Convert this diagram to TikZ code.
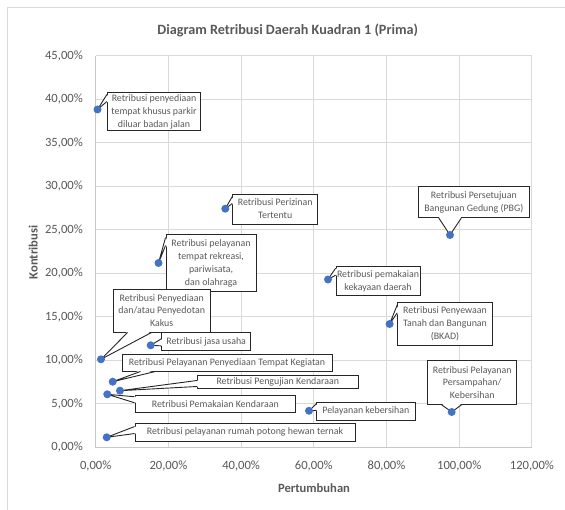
\documentclass[tikz,border=0pt]{standalone}
\usepackage{fontspec}
\setmainfont{Carlito}
\usetikzlibrary{calc}
\definecolor{txt}{HTML}{595959}
\definecolor{gridc}{HTML}{D9D9D9}
\definecolor{axisc}{HTML}{C8C8C8}
\definecolor{ptblue}{HTML}{4472C4}
\tikzset{
 lbl/.style={draw=black!85, line width=0.9pt, fill=white, text=txt, font=\fontsize{9.9}{12.8}\selectfont, align=center, inner sep=0pt},
 cline/.style={draw=black!85, line width=0.9pt, line join=miter},
 dot/.style={circle, fill=ptblue, inner sep=0pt, minimum size=8pt},
 ticklbl/.style={text=txt, font=\fontsize{12.6}{14}\selectfont, inner sep=0pt},
 axtitle/.style={text=txt, font=\bfseries\fontsize{12.6}{14}\selectfont, inner sep=0pt},
 gridline/.style={draw=gridc, line width=0.9pt},
 framec/.style={draw=gridc, line width=0.9pt},
}
\newcommand\mkcallout[4]{% point, base1, base2, inward shift
 \fill[white] ($(#2)+#4$) -- (#1) -- ($(#3)+#4$) -- cycle;
 \draw[cline] (#2) -- (#1) -- (#3);}
\begin{document}
\begin{tikzpicture}[x=1pt,y=-1pt]
\useasboundingbox (0,0) rectangle (565,510);
\fill[white] (0,0) rectangle (565,510);
% outer frame
\draw[framec] (7.3,510) -- (7.3,7.3) -- (565,7.3);
% title
\node[text=txt, font=\bfseries\fontsize{14.2}{16}\selectfont] (title) at (287.7,30.6) {Diagram Retribusi Daerah Kuadran 1 (Prima)};
% grid
\foreach \i in {1,...,6} \draw[gridline] ({95.7+\i*72.7},55.7) -- ({95.7+\i*72.7},447.3);
\foreach \j in {1,...,9} \draw[gridline] (95.7,{447.3-\j*43.5}) -- (532,{447.3-\j*43.5});
\draw[draw=axisc, line width=0.9pt] (95.7,55.7) -- (95.7,447.3) -- (532,447.3);
% tick labels
\foreach \j/\t in {0/{0,00\%},1/{5,00\%},2/{10,00\%},3/{15,00\%},4/{20,00\%},5/{25,00\%},6/{30,00\%},7/{35,00\%},8/{40,00\%},9/{45,00\%}}
 \node[ticklbl, anchor=east] (y\j) at (83,{447.3-\j*43.5}) {\t};
\foreach \i/\t in {0/{0,00\%},1/{20,00\%},2/{40,00\%},3/{60,00\%},4/{80,00\%},5/{100,00\%},6/{120,00\%}}
 \node[ticklbl] (x\i) at ({95.7+\i*72.7},466) {\t};
\node[axtitle, rotate=90] (ytitle) at (33.3,252.5) {Kontribusi};
\node[axtitle] (xtitle) at (314,488) {Pertumbuhan};
% data points
\coordinate (p1) at (97.5,109.5);
\coordinate (p2) at (225.3,208.7);
\coordinate (p3) at (158.5,263);
\coordinate (p4) at (450,235);
\coordinate (p5) at (328,279.5);
\coordinate (p6) at (389.6,324);
\coordinate (p7) at (101,359.3);
\coordinate (p8) at (150.7,345.3);
\coordinate (p9) at (112.7,381.7);
\coordinate (p10) at (120,390.7);
\coordinate (p11) at (107.3,394.3);
\coordinate (p12) at (106.7,437.3);
\coordinate (p13) at (309,410.8);
\coordinate (p14) at (451.7,412);
% callout boxes
\node[lbl, minimum width=93.4pt, minimum height=38pt] (c1) at (154,111.7) {Retribusi penyediaan\\tempat khusus parkir\\diluar badan jalan};
\node[lbl, minimum width=85pt, minimum height=30pt] (c2) at (275.2,209) {Retribusi Perizinan\\Tertentu};
\node[lbl, minimum width=90pt, minimum height=56.7pt] (c3) at (211,263.3) {Retribusi pelayanan\\tempat rekreasi,\\pariwisata,\\dan olahraga};
\node[lbl, minimum width=111pt, minimum height=31pt] (c4) at (473.8,202.2) {Retribusi Persetujuan\\Bangunan Gedung (PBG)};
\node[lbl, minimum width=84pt, minimum height=29pt] (c5) at (378,281.2) {Retribusi pemakaian\\kekayaan daerah};
\node[lbl, minimum width=94.6pt, minimum height=43.4pt] (c6) at (445,324) {Retribusi Penyewaan\\Tanah dan Bangunan\\(BKAD)};
\node[lbl, minimum width=96.7pt, minimum height=43pt] (c7) at (161.7,310.5) {Retribusi Penyediaan\\dan/atau Penyedotan\\Kakus};
\node[lbl, minimum width=89pt, minimum height=18.4pt] (c8) at (206.2,341.5) {Retribusi jasa usaha};
\node[lbl, minimum width=210pt, minimum height=17pt] (c9) at (227,362.5) {Retribusi Pelayanan Penyediaan Tempat Kegiatan};
\node[lbl, minimum width=161pt, minimum height=12.5pt] (c10) at (277.8,382.2) {Retribusi Pengujian Kendaraan};
\node[lbl, minimum width=160.7pt, minimum height=16.6pt] (c11) at (215.3,404) {Retribusi Pemakaian Kendaraan};
\node[lbl, minimum width=220pt, minimum height=18pt] (c12) at (245,432) {Retribusi pelayanan rumah potong hewan ternak};
\node[lbl, minimum width=98.3pt, minimum height=17.7pt] (c13) at (365.8,411.2) {Pelayanan kebersihan};
\node[lbl, minimum width=89pt, minimum height=43.6pt] (c14) at (472.2,382.5) {Retribusi Pelayanan\\Persampahan/\\Kebersihan};
% wedge base points
\coordinate (c1a) at ([yshift=-2.3pt]c1.north west);
\coordinate (c1b) at ([yshift=-9.3pt]c1.north west);
\coordinate (c2a) at ([yshift=-3pt]c2.north west);
\coordinate (c2b) at ([yshift=-10pt]c2.north west);
\coordinate (c3a) at ([yshift=-3pt]c3.north west);
\coordinate (c3b) at ([yshift=-11pt]c3.north west);
\coordinate (c4a) at ([xshift=21pt]c4.south west);
\coordinate (c4b) at ([xshift=43.4pt]c4.south west);
\coordinate (c5a) at ([yshift=-2pt]c5.north west);
\coordinate (c5b) at ([yshift=-9pt]c5.north west);
\coordinate (c6a) at ([yshift=-3pt]c6.north west);
\coordinate (c6b) at ([yshift=-11pt]c6.north west);
\coordinate (c7a) at ([xshift=14.7pt]c7.south west);
\coordinate (c7b) at ([xshift=38.7pt]c7.south west);
\coordinate (c8a) at ([yshift=-7pt]c8.north west);
\coordinate (c8b) at ([yshift=-14pt]c8.north west);
\coordinate (c9a) at ([xshift=19pt]c9.south west);
\coordinate (c9b) at ([xshift=34pt]c9.south west);
\coordinate (c10a) at ([yshift=-5pt]c10.north west);
\coordinate (c10b) at ([yshift=-11pt]c10.north west);
\coordinate (c11a) at ([yshift=-1.5pt]c11.north west);
\coordinate (c11b) at ([yshift=-7.5pt]c11.north west);
\coordinate (c12a) at ([yshift=-4pt]c12.north west);
\coordinate (c12b) at ([yshift=-11pt]c12.north west);
\coordinate (c13a) at ([yshift=-2pt]c13.north west);
\coordinate (c13b) at ([yshift=-8.5pt]c13.north west);
\coordinate (c14a) at ([xshift=14.3pt]c14.south west);
\coordinate (c14b) at ([xshift=34.3pt]c14.south west);
% wedges
\mkcallout{p1}{c1a}{c1b}{(1.3,0)}
\mkcallout{p2}{c2a}{c2b}{(1.3,0)}
\mkcallout{p3}{c3a}{c3b}{(1.3,0)}
\mkcallout{p4}{c4a}{c4b}{(0,-1.3)}
\mkcallout{p5}{c5a}{c5b}{(1.3,0)}
\mkcallout{p6}{c6a}{c6b}{(1.3,0)}
\mkcallout{p7}{c7a}{c7b}{(0,-1.3)}
\mkcallout{p8}{c8a}{c8b}{(1.3,0)}
\mkcallout{p9}{c9a}{c9b}{(0,-1.3)}
\mkcallout{p10}{c10a}{c10b}{(1.3,0)}
\mkcallout{p11}{c11a}{c11b}{(1.3,0)}
\mkcallout{p12}{c12a}{c12b}{(1.3,0)}
\mkcallout{p13}{c13a}{c13b}{(1.3,0)}
\mkcallout{p14}{c14a}{c14b}{(0,-1.3)}
% markers
\foreach \k in {1,...,14} \node[dot] (m\k) at (p\k) {};
\end{tikzpicture}
\end{document}
